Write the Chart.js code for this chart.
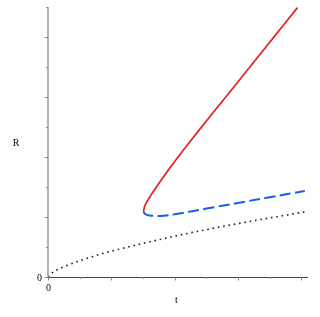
<!DOCTYPE html>
<html>
<head>
<meta charset="utf-8">
<script src="https://cdn.jsdelivr.net/npm/chart.js@4/dist/chart.umd.min.js"></script>
<style>
html,body{margin:0;padding:0;background:#fff;}
#wrap{width:320px;height:317px;position:relative;}
</style>
</head>
<body>
<div id="wrap"><canvas id="c" width="320" height="317"></canvas></div>
<script>
// Upper branch (red, solid)
const redT = [3.02, 3.025, 3.04, 3.07, 3.11, 3.16, 3.26, 3.37, 3.52, 3.70, 3.90, 4.12, 4.40, 4.79, 5.30, 5.85, 6.38, 6.90, 7.40, 7.88];
const redR = [2.18, 2.24, 2.31, 2.40, 2.49, 2.57, 2.745, 2.92, 3.15, 3.42, 3.71, 4.02, 4.40, 4.92, 5.59, 6.31, 7.01, 7.69, 8.35, 8.98];
// Lower branch (blue, dashed)
const blueT = [3.02, 3.04, 3.09, 3.16, 3.30, 3.45, 3.65, 4.00, 5.00, 6.00, 7.00, 8.11];
const blueR = [2.18, 2.13, 2.09, 2.06, 2.04, 2.03, 2.04, 2.09, 2.28, 2.47, 2.66, 2.87];
// Reference curve (black, dotted)
const dotT = [0, 0.12, 0.5, 1, 1.5, 2, 3, 4, 5, 6, 7, 8.11];
const dotR = [0, 0.13, 0.34, 0.54, 0.71, 0.86, 1.12, 1.36, 1.58, 1.78, 1.97, 2.17];
// Axes
const xTicks = [0, 1, 2, 3, 4, 5, 6, 7, 8];
const yTicks = [0, 1, 2, 3, 4, 5, 6, 7, 8, 9];
const xLabel = 't';
const yLabel = 'R';
const originLabel = '0';

const pts = (xs, ys) => xs.map((x, i) => ({x: x, y: ys[i]}));

const axesPlugin = {
  id: 'mapleAxes',
  afterDatasetsDraw(chart) {
    const ctx = chart.ctx;
    const xs = chart.scales.x, ys = chart.scales.y;
    const a = chart.chartArea;
    const x0 = xs.getPixelForValue(0), y0 = ys.getPixelForValue(0);
    ctx.save();
    // y axis
    ctx.strokeStyle = '#8a8a8a';
    ctx.lineWidth = 1.3;
    ctx.beginPath(); ctx.moveTo(x0, a.bottom); ctx.lineTo(x0, a.top); ctx.stroke();
    ctx.lineWidth = 1;
    yTicks.forEach(v => {
      const p = Math.round(ys.getPixelForValue(v)) + 0.5;
      const len = (v % 2 === 0) ? 3.5 : 2;
      ctx.beginPath(); ctx.moveTo(x0 - len, p); ctx.lineTo(x0, p); ctx.stroke();
    });
    // x axis
    ctx.strokeStyle = '#444';
    ctx.lineWidth = 1;
    ctx.beginPath(); ctx.moveTo(a.left, y0 + 0.5); ctx.lineTo(a.right, y0 + 0.5); ctx.stroke();
    ctx.strokeStyle = '#8a8a8a';
    xTicks.forEach(v => {
      const p = Math.round(xs.getPixelForValue(v)) + 0.5;
      const len = (v % 2 === 0) ? 3.5 : 2;
      ctx.beginPath(); ctx.moveTo(p, y0); ctx.lineTo(p, y0 + len); ctx.stroke();
    });
    // labels
    ctx.fillStyle = '#000';
    ctx.font = '10px "Liberation Serif", "DejaVu Serif", serif';
    ctx.textBaseline = 'middle';
    ctx.textAlign = 'center';
    ctx.fillText(originLabel, x0 - 8.5, y0 + 1);
    ctx.fillText(originLabel, x0 + 0.5, y0 + 11.5);
    ctx.fillText(xLabel, (a.left + a.right) / 2 - 1.5, a.bottom + 23);
    ctx.fillText(yLabel, 16, (a.top + a.bottom) / 2 + 1.5);
    ctx.restore();
  }
};

new Chart(document.getElementById('c'), {
  type: 'scatter',
  data: {
    datasets: [
      {data: pts(dotT, dotR), showLine: true, borderColor: '#222', borderWidth: 1.6,
       borderDash: [1.6, 3.8], pointRadius: 0, cubicInterpolationMode: 'monotone', fill: false},
      {data: pts(blueT, blueR), showLine: true, borderColor: '#1660e6', borderWidth: 2,
       borderDash: [11, 4.5], pointRadius: 0, tension: 0.4, fill: false},
      {data: pts(redT, redR), showLine: true, borderColor: '#e41e26', borderWidth: 1.7,
       pointRadius: 0, tension: 0.3, fill: false}
    ]
  },
  options: {
    responsive: false,
    animation: false,
    layout: {padding: {left: 48, right: 12, top: 7, bottom: 40}},
    plugins: {legend: {display: false}, tooltip: {enabled: false}},
    scales: {
      x: {type: 'linear', min: 0, max: 8.21, display: false},
      y: {type: 'linear', min: 0, max: 9, display: false}
    }
  },
  plugins: [axesPlugin]
});
</script>
</body>
</html>
